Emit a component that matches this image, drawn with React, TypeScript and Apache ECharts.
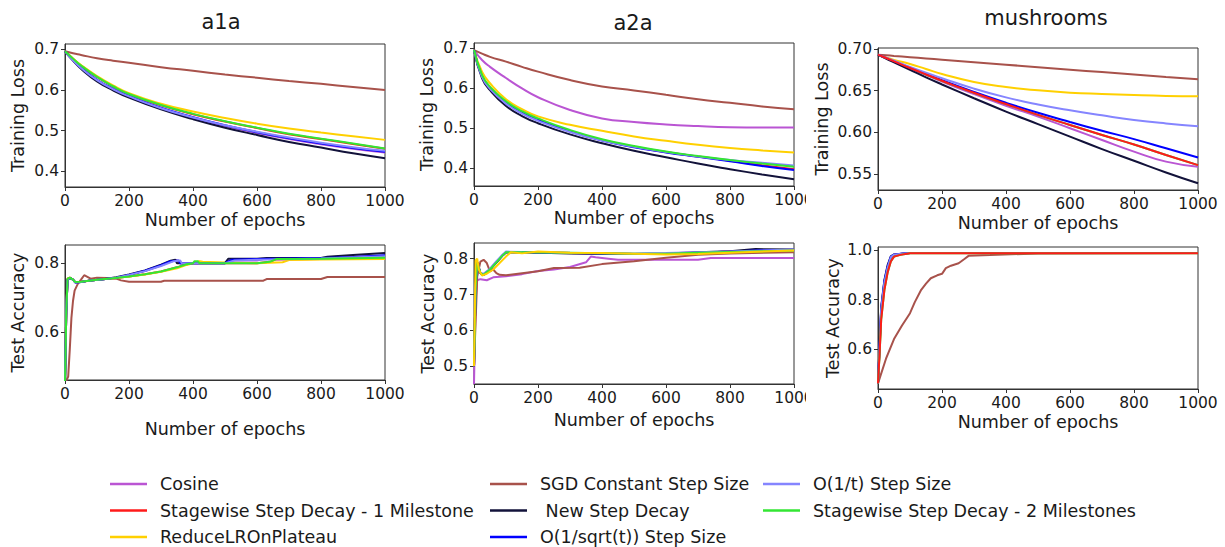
import React, { useEffect, useRef } from 'react';
import * as echarts from 'echarts';

// ---------- legend / series names ----------
const seriesNames = [
  'Cosine',
  'Stagewise Step Decay - 1 Milestone',
  'ReduceLROnPlateau',
  'SGD Constant Step Size',
  ' New Step Decay',
  'O(1/sqrt(t)) Step Size',
  'O(1/t) Step Size',
  'Stagewise Step Decay - 2 Milestones',
];
const seriesColors = ['#BA55D3', '#FF1A1A', '#FFD000', '#A8524B', '#12123A', '#0000FF', '#8585FF', '#33E633'];

const panelTitles = ['a1a', 'a2a', 'mushrooms'];
const xTicks = [0, 200, 400, 600, 800, 1000];

// ---------- training loss (x = epochs) ----------
const epochs = [0, 25, 50, 100, 150, 200, 300, 400, 500, 600, 700, 800, 900, 1000];

const a1aLossCos = [0.695, 0.673, 0.654, 0.624, 0.601, 0.583, 0.554, 0.531, 0.511, 0.494, 0.479, 0.466, 0.455, 0.446];
const a1aLossSw1 = [0.695, 0.677, 0.660, 0.632, 0.609, 0.590, 0.562, 0.540, 0.522, 0.506, 0.491, 0.479, 0.467, 0.455];
const a1aLossRlr = [0.695, 0.677, 0.661, 0.634, 0.611, 0.592, 0.566, 0.547, 0.531, 0.517, 0.505, 0.495, 0.486, 0.477];
const a1aLossSgd = [0.695, 0.690, 0.686, 0.678, 0.672, 0.667, 0.656, 0.647, 0.638, 0.630, 0.622, 0.615, 0.607, 0.600];
const a1aLossNsd = [0.695, 0.672, 0.652, 0.621, 0.599, 0.581, 0.552, 0.528, 0.507, 0.489, 0.472, 0.458, 0.444, 0.432];
const a1aLossSqrt = [0.695, 0.674, 0.655, 0.625, 0.603, 0.585, 0.556, 0.533, 0.513, 0.496, 0.481, 0.468, 0.457, 0.448];
const a1aLossInv = [0.695, 0.673, 0.654, 0.624, 0.602, 0.584, 0.555, 0.532, 0.513, 0.497, 0.483, 0.470, 0.459, 0.450];
const a1aLossSw2 = [0.695, 0.677, 0.660, 0.632, 0.609, 0.590, 0.563, 0.541, 0.523, 0.507, 0.492, 0.480, 0.468, 0.456];

const a2aLossCos = [0.695, 0.670, 0.653, 0.625, 0.599, 0.577, 0.545, 0.524, 0.515, 0.509, 0.505, 0.502, 0.501, 0.501];
const a2aLossSw1 = [0.695, 0.631, 0.601, 0.564, 0.539, 0.521, 0.492, 0.470, 0.453, 0.440, 0.429, 0.418, 0.407, 0.397];
const a2aLossRlr = [0.695, 0.641, 0.612, 0.572, 0.547, 0.529, 0.508, 0.493, 0.479, 0.468, 0.458, 0.450, 0.444, 0.439];
const a2aLossSgd = [0.695, 0.686, 0.678, 0.666, 0.653, 0.641, 0.620, 0.604, 0.594, 0.583, 0.572, 0.563, 0.554, 0.547];
const a2aLossNsd = [0.695, 0.625, 0.595, 0.555, 0.530, 0.512, 0.484, 0.462, 0.443, 0.427, 0.411, 0.397, 0.384, 0.372];
const a2aLossSqrt = [0.695, 0.630, 0.600, 0.563, 0.538, 0.520, 0.491, 0.469, 0.452, 0.439, 0.428, 0.417, 0.405, 0.395];
const a2aLossInv = [0.695, 0.628, 0.598, 0.561, 0.536, 0.518, 0.490, 0.469, 0.453, 0.440, 0.429, 0.420, 0.413, 0.406];
const a2aLossSw2 = [0.695, 0.633, 0.603, 0.567, 0.542, 0.524, 0.495, 0.472, 0.455, 0.441, 0.430, 0.420, 0.411, 0.403];

const mushLossCos = [0.6932, 0.689, 0.685, 0.677, 0.669, 0.661, 0.646, 0.632, 0.619, 0.605, 0.591, 0.577, 0.565, 0.559];
const mushLossSw1 = [0.6932, 0.6892, 0.6852, 0.6772, 0.6695, 0.662, 0.6475, 0.634, 0.621, 0.609, 0.597, 0.5855, 0.573, 0.5608];
const mushLossRlr = [0.6932, 0.690, 0.687, 0.682, 0.676, 0.670, 0.6605, 0.6545, 0.6505, 0.6477, 0.6461, 0.6448, 0.6438, 0.6433];
const mushLossSgd = [0.6932, 0.6925, 0.6917, 0.6902, 0.6887, 0.6872, 0.6842, 0.6812, 0.6782, 0.6752, 0.6723, 0.6694, 0.6665, 0.6637];
const mushLossNsd = [0.6932, 0.6885, 0.684, 0.675, 0.666, 0.6575, 0.641, 0.625, 0.610, 0.595, 0.580, 0.566, 0.552, 0.539];
const mushLossSqrt = [0.6932, 0.6893, 0.6855, 0.6775, 0.670, 0.6625, 0.6485, 0.6355, 0.6235, 0.6125, 0.602, 0.592, 0.581, 0.570];
const mushLossInv = [0.6932, 0.6895, 0.686, 0.6785, 0.6715, 0.665, 0.6525, 0.642, 0.6335, 0.6265, 0.6205, 0.615, 0.6108, 0.6075];
const mushLossSw2 = [0.6932, 0.6892, 0.6852, 0.6772, 0.6695, 0.662, 0.6475, 0.634, 0.621, 0.609, 0.597, 0.5855, 0.573, 0.5608];

// ---------- test accuracy ([epoch, accuracy]) ----------
const a1aAccCos = [[0, 0.45], [4, 0.66], [8, 0.752], [15, 0.757], [25, 0.752], [32, 0.744], [50, 0.745], [80, 0.75], [120, 0.753], [160, 0.758], [200, 0.766], [250, 0.777], [300, 0.793], [330, 0.805], [350, 0.808], [360, 0.8], [500, 0.8], [515, 0.808], [600, 0.808], [620, 0.812], [800, 0.814], [900, 0.818], [1000, 0.822]];
const a1aAccSw1 = [[0, 0.45], [4, 0.66], [8, 0.755], [15, 0.758], [25, 0.752], [32, 0.745], [50, 0.746], [100, 0.752], [150, 0.756], [200, 0.761], [250, 0.768], [300, 0.776], [350, 0.788], [380, 0.797], [400, 0.8], [600, 0.8], [640, 0.804], [660, 0.811], [800, 0.812], [1000, 0.815]];
const a1aAccRlr = [[0, 0.45], [4, 0.66], [8, 0.755], [15, 0.758], [25, 0.752], [32, 0.745], [50, 0.746], [100, 0.752], [150, 0.756], [200, 0.761], [250, 0.767], [300, 0.775], [350, 0.785], [380, 0.795], [400, 0.8], [420, 0.806], [430, 0.804], [500, 0.802], [600, 0.8], [680, 0.803], [700, 0.809], [800, 0.811], [1000, 0.812]];
const a1aAccSgd = [[0, 0.45], [10, 0.47], [15, 0.55], [20, 0.64], [25, 0.69], [30, 0.72], [40, 0.74], [50, 0.752], [60, 0.765], [70, 0.76], [80, 0.755], [100, 0.758], [130, 0.757], [160, 0.755], [175, 0.75], [200, 0.746], [300, 0.746], [310, 0.749], [620, 0.749], [630, 0.754], [800, 0.754], [820, 0.76], [1000, 0.76]];
const a1aAccNsd = [[0, 0.45], [4, 0.66], [8, 0.752], [15, 0.757], [25, 0.752], [32, 0.744], [50, 0.745], [80, 0.75], [120, 0.753], [160, 0.759], [200, 0.767], [250, 0.779], [300, 0.796], [330, 0.807], [345, 0.81], [350, 0.8], [500, 0.8], [510, 0.813], [600, 0.813], [630, 0.815], [800, 0.815], [820, 0.819], [900, 0.824], [1000, 0.83]];
const a1aAccSqrt = [[0, 0.45], [4, 0.66], [8, 0.752], [15, 0.757], [25, 0.752], [32, 0.744], [50, 0.745], [80, 0.75], [120, 0.753], [160, 0.758], [200, 0.766], [250, 0.778], [300, 0.794], [330, 0.806], [355, 0.808], [360, 0.8], [500, 0.8], [520, 0.81], [600, 0.812], [800, 0.815], [900, 0.818], [1000, 0.823]];
const a1aAccInv = [[0, 0.45], [4, 0.66], [8, 0.752], [15, 0.757], [25, 0.752], [32, 0.744], [50, 0.745], [80, 0.75], [120, 0.753], [160, 0.758], [200, 0.766], [250, 0.777], [300, 0.792], [340, 0.806], [360, 0.808], [365, 0.8], [500, 0.8], [530, 0.808], [600, 0.81], [800, 0.814], [1000, 0.82]];
const a1aAccSw2 = [[0, 0.45], [4, 0.66], [8, 0.755], [15, 0.758], [25, 0.752], [32, 0.745], [50, 0.746], [100, 0.752], [150, 0.756], [200, 0.761], [250, 0.768], [300, 0.776], [350, 0.788], [380, 0.797], [400, 0.8], [405, 0.806], [415, 0.806], [420, 0.8], [600, 0.8], [640, 0.804], [660, 0.812], [800, 0.813], [1000, 0.816]];

const a2aAccCos = [[0, 0.45], [5, 0.68], [10, 0.74], [20, 0.743], [40, 0.74], [60, 0.748], [100, 0.751], [150, 0.757], [200, 0.766], [250, 0.77], [300, 0.777], [350, 0.79], [365, 0.806], [380, 0.804], [420, 0.8], [450, 0.797], [700, 0.797], [740, 0.802], [1000, 0.802]];
const a2aAccSw1 = [[0, 0.5], [5, 0.72], [10, 0.79], [20, 0.76], [30, 0.755], [50, 0.77], [70, 0.79], [90, 0.81], [100, 0.818], [150, 0.818], [300, 0.816], [500, 0.813], [600, 0.814], [700, 0.817], [800, 0.82], [900, 0.823], [1000, 0.824]];
const a2aAccRlr = [[0, 0.5], [5, 0.795], [10, 0.8], [15, 0.77], [25, 0.753], [40, 0.758], [60, 0.77], [80, 0.788], [100, 0.806], [115, 0.818], [150, 0.815], [200, 0.82], [300, 0.817], [400, 0.816], [600, 0.812], [700, 0.813], [800, 0.817], [1000, 0.823]];
const a2aAccSgd = [[0, 0.5], [10, 0.75], [20, 0.792], [30, 0.797], [40, 0.788], [50, 0.765], [60, 0.77], [70, 0.76], [80, 0.755], [100, 0.754], [200, 0.765], [250, 0.774], [330, 0.775], [400, 0.785], [500, 0.793], [600, 0.803], [700, 0.811], [800, 0.815], [1000, 0.818]];
const a2aAccNsd = [[0, 0.5], [5, 0.72], [10, 0.79], [20, 0.76], [30, 0.755], [50, 0.77], [70, 0.79], [90, 0.81], [100, 0.818], [150, 0.818], [300, 0.815], [500, 0.813], [600, 0.815], [700, 0.818], [800, 0.821], [880, 0.827], [1000, 0.826]];
const a2aAccSqrt = [[0, 0.5], [5, 0.72], [10, 0.79], [20, 0.76], [30, 0.755], [50, 0.77], [70, 0.79], [90, 0.81], [100, 0.818], [150, 0.818], [300, 0.816], [500, 0.813], [600, 0.814], [700, 0.817], [800, 0.82], [900, 0.824], [1000, 0.825]];
const a2aAccInv = [[0, 0.5], [5, 0.72], [10, 0.79], [20, 0.76], [30, 0.758], [50, 0.772], [70, 0.793], [90, 0.812], [100, 0.82], [150, 0.819], [300, 0.817], [500, 0.815], [600, 0.816], [700, 0.818], [800, 0.82], [1000, 0.826]];
const a2aAccSw2 = [[0, 0.5], [5, 0.72], [10, 0.79], [20, 0.76], [30, 0.755], [50, 0.77], [70, 0.79], [90, 0.81], [100, 0.818], [150, 0.818], [300, 0.817], [500, 0.814], [600, 0.814], [700, 0.817], [800, 0.819], [1000, 0.823]];

const mushAccCos = [[0, 0.46], [5, 0.6], [10, 0.76], [20, 0.87], [30, 0.93], [40, 0.972], [50, 0.983], [80, 0.988], [100, 0.99], [1000, 0.99]];
const mushAccSw1 = [[0, 0.46], [5, 0.58], [10, 0.72], [20, 0.84], [30, 0.91], [40, 0.955], [50, 0.975], [70, 0.982], [100, 0.989], [1000, 0.989]];
const mushAccRlr = [[0, 0.46], [5, 0.59], [10, 0.74], [20, 0.855], [30, 0.92], [40, 0.962], [50, 0.978], [80, 0.986], [100, 0.99], [1000, 0.99]];
const mushAccSgd = [[0, 0.46], [25, 0.56], [50, 0.64], [75, 0.695], [100, 0.745], [115, 0.79], [135, 0.84], [150, 0.865], [165, 0.887], [185, 0.899], [200, 0.905], [212, 0.928], [228, 0.938], [252, 0.948], [270, 0.965], [283, 0.978], [350, 0.981], [500, 0.988], [1000, 0.99]];
const mushAccNsd = [[0, 0.46], [5, 0.62], [10, 0.77], [20, 0.88], [30, 0.94], [40, 0.976], [50, 0.984], [80, 0.988], [100, 0.99], [1000, 0.99]];
const mushAccSqrt = [[0, 0.46], [5, 0.61], [10, 0.765], [20, 0.875], [30, 0.935], [40, 0.974], [50, 0.983], [80, 0.988], [100, 0.99], [1000, 0.99]];
const mushAccInv = [[0, 0.46], [5, 0.6], [10, 0.76], [20, 0.87], [30, 0.93], [40, 0.972], [50, 0.983], [80, 0.988], [100, 0.99], [1000, 0.99]];
const mushAccSw2 = [[0, 0.46], [5, 0.58], [10, 0.72], [20, 0.84], [30, 0.91], [40, 0.955], [50, 0.975], [70, 0.982], [100, 0.989], [1000, 0.989]];

// ---------- y-axis tick labels ----------
const lossTicksA = [0.4, 0.5, 0.6, 0.7];
const lossTicksMush = [0.55, 0.6, 0.65, 0.7];
const accTicksA1a = [0.6, 0.8];
const accTicksA2a = [0.5, 0.6, 0.7, 0.8];
const accTicksMush = [0.6, 0.8, 1.0];

const FONT = 'DejaVu Sans';
const TXT = '#1a1a1a';

function buildOption() {
  const lossPanels = [
    [a1aLossCos, a1aLossSw1, a1aLossRlr, a1aLossSgd, a1aLossNsd, a1aLossSqrt, a1aLossInv, a1aLossSw2],
    [a2aLossCos, a2aLossSw1, a2aLossRlr, a2aLossSgd, a2aLossNsd, a2aLossSqrt, a2aLossInv, a2aLossSw2],
    [mushLossCos, mushLossSw1, mushLossRlr, mushLossSgd, mushLossNsd, mushLossSqrt, mushLossInv, mushLossSw2],
  ].map((panel) => panel.map((vals) => epochs.map((x, j) => [x, vals[j]])));
  const accPanels = [
    [a1aAccCos, a1aAccSw1, a1aAccRlr, a1aAccSgd, a1aAccNsd, a1aAccSqrt, a1aAccInv, a1aAccSw2],
    [a2aAccCos, a2aAccSw1, a2aAccRlr, a2aAccSgd, a2aAccNsd, a2aAccSqrt, a2aAccInv, a2aAccSw2],
    [mushAccCos, mushAccSw1, mushAccRlr, mushAccSgd, mushAccNsd, mushAccSqrt, mushAccInv, mushAccSw2],
  ];
  const panels = [...lossPanels, ...accPanels];

  // drawing order per panel (last drawn on top)
  const orders = [
    [0, 1, 2, 3, 4, 5, 6, 7],
    [0, 1, 2, 3, 4, 5, 6, 7],
    [0, 7, 2, 3, 4, 5, 6, 1],
    [0, 1, 2, 3, 4, 5, 6, 7],
    [0, 1, 3, 4, 5, 6, 7, 2],
    [0, 3, 2, 4, 5, 6, 7, 1],
  ];

  const grids = [
    { left: 65, top: 44, width: 320, height: 143 },
    { left: 474, top: 43, width: 320, height: 143 },
    { left: 878, top: 48, width: 320, height: 142 },
    { left: 65, top: 245, width: 320, height: 135 },
    { left: 474, top: 243, width: 320, height: 141 },
    { left: 878, top: 247, width: 320, height: 142 },
  ].map((g) => ({ ...g, show: true, borderColor: '#333', borderWidth: 1, backgroundColor: 'transparent', containLabel: false }));

  const yCfg = [
    { min: 0.361, max: 0.713, ticks: lossTicksA, dec: 1, name: 'Training Loss', gap: 38 },
    { min: 0.355, max: 0.7126, ticks: lossTicksA, dec: 1, name: 'Training Loss', gap: 38 },
    { min: 0.531, max: 0.7012, ticks: lossTicksMush, dec: 2, name: 'Training Loss', gap: 47 },
    { min: 0.46, max: 0.853, ticks: accTicksA1a, dec: 1, name: 'Test Accuracy', gap: 38 },
    { min: 0.45, max: 0.844, ticks: accTicksA2a, dec: 1, name: 'Test Accuracy', gap: 37 },
    { min: 0.437, max: 1.014, ticks: accTicksMush, dec: 1, name: 'Test Accuracy', gap: 36 },
  ];
  const xGaps = [24, 23, 24, 40, 27, 24];

  const labelStyle = { fontFamily: FONT, fontSize: 15.5, color: TXT };
  const nameStyle = { fontFamily: FONT, fontSize: 17.5, color: TXT };

  const xAxis = grids.map((_, i) => ({
    type: 'value',
    gridIndex: i,
    min: 0,
    max: 1000,
    interval: 200,
    name: 'Number of epochs',
    nameLocation: 'middle',
    nameGap: xGaps[i],
    nameTextStyle: nameStyle,
    axisLine: { show: true, onZero: false, lineStyle: { color: '#333', width: 1 } },
    axisTick: { show: true, length: 4, lineStyle: { color: '#333' } },
    axisLabel: { ...labelStyle, margin: 6, customValues: xTicks, formatter: (v: number) => String(v) },
    splitLine: { show: false },
  }));

  const yAxis = yCfg.map((c, i) => ({
    type: 'value',
    gridIndex: i,
    min: c.min,
    max: c.max,
    name: c.name,
    nameLocation: 'middle',
    nameGap: c.gap,
    nameTextStyle: nameStyle,
    axisLine: { show: true, onZero: false, lineStyle: { color: '#333', width: 1 } },
    axisTick: { show: true, length: 4, lineStyle: { color: '#333' }, customValues: c.ticks },
    axisLabel: { ...labelStyle, margin: 6, customValues: c.ticks, formatter: (v: number) => v.toFixed(c.dec) },
    splitLine: { show: false },
  }));

  const series: any[] = [];
  panels.forEach((panel, i) => {
    orders[i].forEach((k) => {
      series.push({
        type: 'line',
        name: seriesNames[k],
        xAxisIndex: i,
        yAxisIndex: i,
        data: panel[k],
        showSymbol: false,
        smooth: i < 3 ? 0.5 : false,
        lineStyle: { width: 2, color: seriesColors[k] },
        itemStyle: { color: seriesColors[k] },
        emphasis: { disabled: true },
      });
    });
  });

  const legendBase = {
    orient: 'vertical',
    top: 475,
    padding: 0,
    itemWidth: 37,
    itemHeight: 2.5,
    itemGap: 8.5,
    icon: 'rect',
    selectedMode: false,
    textStyle: { fontFamily: FONT, fontSize: 17.5, color: TXT, padding: [0, 0, 0, 8] },
    formatter: (n: string) => n.replace(/^ /, '\u00a0'),
  };
  const legend = [
    { ...legendBase, left: 110, data: seriesNames.slice(0, 3) },
    { ...legendBase, left: 490, data: seriesNames.slice(3, 6) },
    { ...legendBase, left: 763, data: seriesNames.slice(6, 8) },
  ];

  const titleX = [221, 633, 1046];
  const titleY = [22, 23, 18];
  const graphic: any[] = panelTitles.map((t, i) => ({
    type: 'text',
    x: titleX[i],
    y: titleY[i],
    style: { text: t, fontFamily: FONT, fontSize: 21, fill: TXT, align: 'center', verticalAlign: 'middle' },
  }));
  graphic.push(
    { type: 'rect', x: 806, y: 190, shape: { width: 10, height: 22 }, style: { fill: '#fff' }, z: 100 },
    { type: 'rect', x: 806, y: 389, shape: { width: 10, height: 22 }, style: { fill: '#fff' }, z: 100 }
  );

  return {
    animation: false,
    backgroundColor: '#fff',
    grid: grids,
    xAxis,
    yAxis,
    series,
    legend,
    graphic,
  };
}

export default function App() {
  const ref = useRef<HTMLDivElement>(null);
  useEffect(() => {
    document.body.style.margin = '0';
    if (!ref.current) return;
    const chart = echarts.init(ref.current, undefined, { renderer: 'svg' });
    chart.setOption(buildOption() as any);
    return () => chart.dispose();
  }, []);
  return <div ref={ref} style={{ width: 1225, height: 547 }} />;
}
